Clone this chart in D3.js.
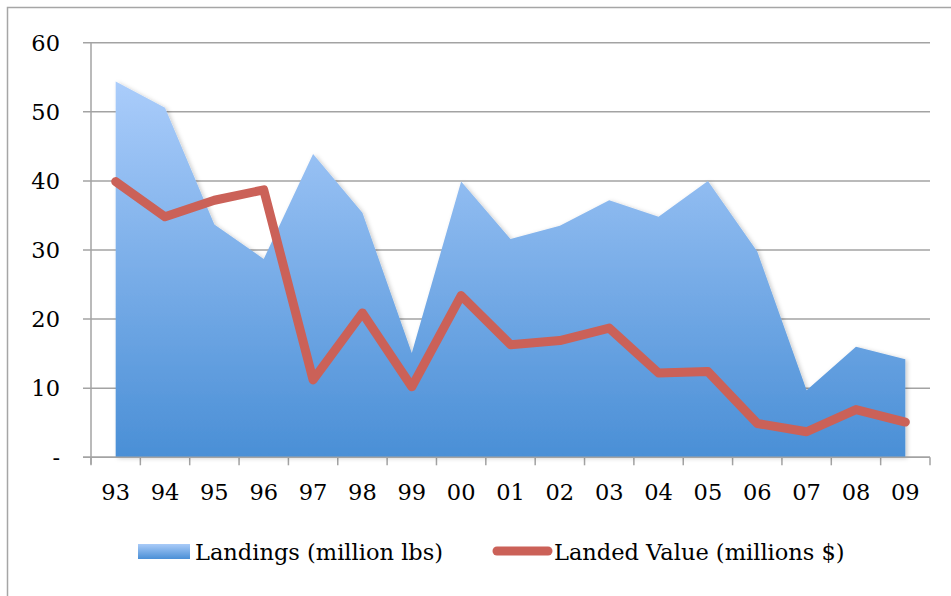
<!DOCTYPE html>
<html>
<head>
<meta charset="utf-8">
<script src="https://cdn.jsdelivr.net/npm/d3@7"></script>
<style>
  html, body { margin: 0; padding: 0; background: #fff; }
  svg { display: block; }
  text { font-family: "DejaVu Serif", serif; fill: #000; }
</style>
</head>
<body>
<div id="chart"></div>
<script>
const years = ["93","94","95","96","97","98","99","00","01","02","03","04","05","06","07","08","09"];
const landings = [54.4, 50.6, 33.7, 28.7, 43.9, 35.4, 15.1, 39.9, 31.6, 33.5, 37.2, 34.8, 40.0, 29.8, 9.7, 16.0, 14.2];
const landedValue = [39.9, 34.8, 37.2, 38.7, 11.2, 20.9, 10.2, 23.4, 16.3, 16.9, 18.7, 12.2, 12.4, 4.9, 3.7, 6.9, 5.1];
const yTicks = [0, 10, 20, 30, 40, 50, 60];
const seriesNames = ["Landings (million lbs)", "Landed Value (millions $)"];

const W = 951, H = 596;
const plot = {left: 91, right: 930, top: 42.7, bottom: 457.3};
const FS = 22.5;

const svg = d3.select("#chart").append("svg").attr("width", W).attr("height", H);
const defs = svg.append("defs");

const grad = defs.append("linearGradient").attr("id", "areaGrad")
  .attr("gradientUnits", "userSpaceOnUse")
  .attr("x1", 0).attr("x2", 0).attr("y1", 78).attr("y2", plot.bottom);
grad.append("stop").attr("offset", "0%").attr("stop-color", "#abcdfb");
grad.append("stop").attr("offset", "100%").attr("stop-color", "#4a8fd6");

const lgrad = defs.append("linearGradient").attr("id", "legGrad")
  .attr("x1", 0).attr("x2", 0).attr("y1", 0).attr("y2", 1);
lgrad.append("stop").attr("offset", "0%").attr("stop-color", "#a9cbf8");
lgrad.append("stop").attr("offset", "100%").attr("stop-color", "#4a8fd6");

const shadow = defs.append("filter").attr("id", "shadow")
  .attr("x", "-5%").attr("y", "-5%").attr("width", "110%").attr("height", "110%");
shadow.append("feDropShadow").attr("dx", 2).attr("dy", 1).attr("stdDeviation", 2)
  .attr("flood-color", "#000").attr("flood-opacity", 0.2);

// outer border
svg.append("rect").attr("x", 7.5).attr("y", 7.5).attr("width", W).attr("height", H)
  .attr("fill", "none").attr("stroke", "#a6a6a6").attr("stroke-width", 1.5);

const x = d3.scaleBand().domain(years).range([plot.left, plot.right]).paddingInner(0).paddingOuter(0);
const y = d3.scaleLinear().domain([0, 60]).range([plot.bottom, plot.top]);
const cx = d => x(d) + x.bandwidth() / 2;

// gridlines
svg.append("g").selectAll("line").data(yTicks).join("line")
  .attr("x1", plot.left - 8).attr("x2", plot.right)
  .attr("y1", d => y(d)).attr("y2", d => y(d))
  .attr("stroke", "#a3a3a3").attr("stroke-width", 1.5);

// y axis line
svg.append("line").attr("x1", plot.left).attr("x2", plot.left)
  .attr("y1", plot.top).attr("y2", plot.bottom + 7)
  .attr("stroke", "#a3a3a3").attr("stroke-width", 1.5);

// x ticks
const xt = years.map(d => x(d)).concat([plot.right]);
svg.append("g").selectAll("line").data(xt).join("line")
  .attr("x1", d => d).attr("x2", d => d)
  .attr("y1", plot.bottom).attr("y2", plot.bottom + 8)
  .attr("stroke", "#a3a3a3").attr("stroke-width", 1.5);

// area
const area = d3.area().x((d, i) => cx(years[i])).y0(y(0)).y1(d => y(d));
svg.append("path").datum(landings).attr("d", area)
  .attr("fill", "url(#areaGrad)").attr("filter", "url(#shadow)");

// x axis baseline over area
svg.append("line").attr("x1", plot.left - 8).attr("x2", plot.right)
  .attr("y1", y(0)).attr("y2", y(0))
  .attr("stroke", "#a3a3a3").attr("stroke-width", 1.5);

// line
const line = d3.line().x((d, i) => cx(years[i])).y(d => y(d));
svg.append("path").datum(landedValue).attr("d", line)
  .attr("fill", "none").attr("stroke", "#cb6158").attr("stroke-width", 9)
  .attr("stroke-linejoin", "round").attr("stroke-linecap", "round");

// y labels
svg.append("g").selectAll("text").data(yTicks).join("text")
  .attr("x", 60).attr("y", d => y(d)).attr("dy", "0.36em")
  .attr("text-anchor", "end").attr("font-size", FS)
  .text(d => d === 0 ? "-" : d);

// x labels
svg.append("g").selectAll("text").data(years).join("text")
  .attr("x", d => cx(d)).attr("y", 500)
  .attr("text-anchor", "middle").attr("font-size", FS)
  .text(d => d);

// legend
const lg = svg.append("g");
lg.append("rect").attr("x", 138).attr("y", 544).attr("width", 52).attr("height", 15)
  .attr("fill", "url(#legGrad)");
lg.append("text").attr("x", 195).attr("y", 560).attr("font-size", FS).text(seriesNames[0]);
lg.append("line").attr("x1", 497).attr("x2", 548).attr("y1", 551).attr("y2", 551)
  .attr("stroke", "#cb6158").attr("stroke-width", 9).attr("stroke-linecap", "round");
lg.append("text").attr("x", 554).attr("y", 560).attr("font-size", FS).text(seriesNames[1]);
</script>
</body>
</html>
